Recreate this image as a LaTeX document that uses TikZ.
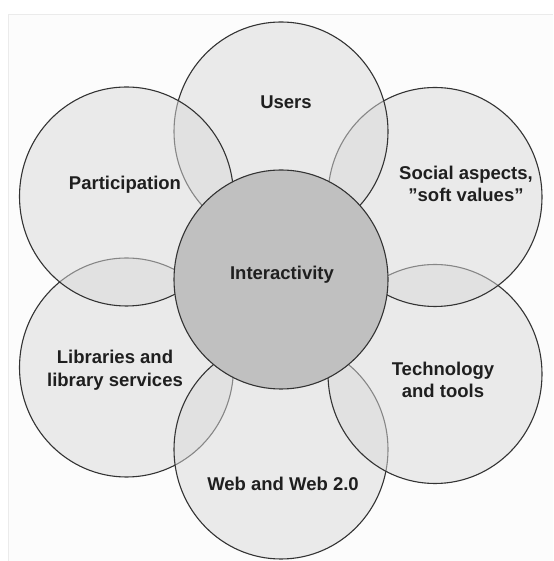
\documentclass[tikz,border=0pt]{standalone}
\usepackage{fontspec}
\setmainfont{Liberation Sans}
\usetikzlibrary{shapes.geometric}
\definecolor{petalgray}{HTML}{DADADA}
\definecolor{hubgray}{HTML}{C0C0C0}
\definecolor{rimgray}{HTML}{333333}
\definecolor{paper}{HTML}{FCFCFC}
\definecolor{framegray}{HTML}{EBEBEB}

\begin{document}
\begin{tikzpicture}[x=1pt,y=1pt,
  petal/.style={ellipse,draw=rimgray,line width=1.1pt,fill=petalgray,fill opacity=0.5,inner sep=0pt,minimum width=214pt,minimum height=219pt},
  hub/.style={petal,fill=hubgray,fill opacity=1},
  tag/.style={align=center,font=\bfseries\fontsize{18.5}{22.5}\selectfont,text=black!88}]
\useasboundingbox (0.000000,0.000000) rectangle (553.000000,561.000000);
% Drawing paper
\filldraw[color=white] (0.000000,0.000000) rectangle (553.000000,561.000000);
\fill[color=paper] (8.000000,0.000000) rectangle (553.000000,547.000000);
\draw[color=framegray] (8.000000,0.000000) -- (8.000000,547.000000) -- (553.000000,547.000000);
% Drawing petals, lowest one first
\node[petal] (libs) at (126.500000,193.500000) {};
\node[petal] (web) at (281.000000,111.500000) {};
\node[petal] (tech) at (435.000000,187.000000) {};
\node[petal] (social) at (435.000000,364.000000) {};
\node[petal] (users) at (281.000000,429.500000) {};
\node[petal] (particip) at (126.500000,364.500000) {};
% Done with petals; drawing hub
\node[hub] (hub) at (281.000000,281.500000) {};
% Drawing labels
\node[tag] (hubtag) at (282.000000,286.000000) {Interactivity};
\node[tag] (userstag) at (286.000000,459.000000) {Users};
\node[tag] (socialtag) at (466.000000,377.000000) {Social aspects,\\”soft values”};
\node[tag] (techtag) at (443.000000,181.000000) {Technology\\and tools};
\node[tag] (webtag) at (283.000000,77.000000) {Web and Web 2.0};
\node[tag] (libstag) at (115.000000,191.000000) {Libraries and\\library services};
\node[tag] (participtag) at (125.000000,376.000000) {Participation};
% Done with labels
\end{tikzpicture}
\end{document}
